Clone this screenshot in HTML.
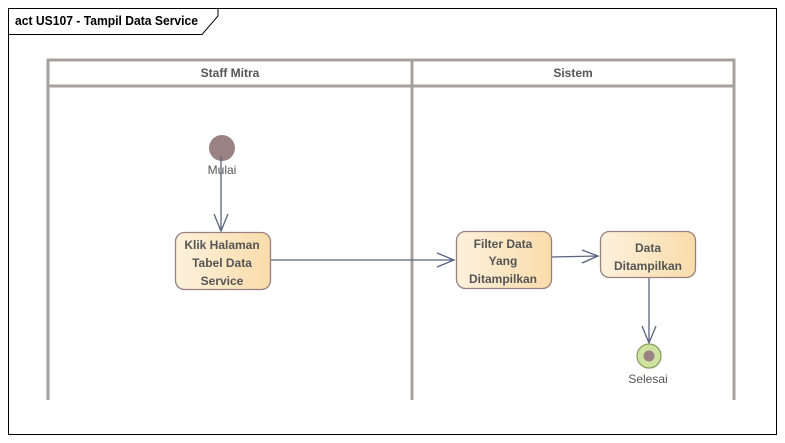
<!DOCTYPE html>
<html><head><style>body{margin:0;background:#fff}svg{display:block}text{font-family:"Liberation Sans",sans-serif}</style></head><body>
<svg width="785" height="443" viewBox="0 0 785 443">
<defs>
<linearGradient id="g" x1="0" x2="1"><stop offset="0" stop-color="#fdf1dc"/><stop offset="1" stop-color="#f9dcaa"/></linearGradient>
</defs>
<rect x="8.5" y="8.5" width="768" height="426" fill="#fff" stroke="#000"/>
<path d="M8.5 34.5H202L218 16V8.5" fill="none" stroke="#000"/>
<text x="15" y="25" font-size="13" font-weight="bold" textLength="183" lengthAdjust="spacingAndGlyphs">act US107 - Tampil Data Service</text>
<g stroke="#a8a0a0" stroke-width="3" fill="none">
<rect x="48" y="60" width="686" height="26"/>
<line x1="48" y1="86" x2="48" y2="400"/>
<line x1="412" y1="60" x2="412" y2="400"/>
<line x1="734" y1="86" x2="734" y2="400"/>
</g>
<g font-size="12" font-weight="bold" fill="#555" text-anchor="middle">
<text x="230" y="77">Staff Mitra</text><text x="573" y="77">Sistem</text>
</g>
<circle cx="222" cy="148" r="13" fill="#9a8282"/>
<text x="222" y="174" font-size="12" fill="#555" text-anchor="middle">Mulai</text>
<g stroke="#5a6480" stroke-width="1.3" fill="none">
<path d="M221 156V231M214 214L221 231L228 214"/>
<path d="M270 260H454M437 253L454 260L437 267"/>
<path d="M551 257L598 256M582 250L598 256L582 263"/>
<path d="M649 277V343M642 326L649 343L656 326"/>
</g>
<g stroke="#9a8080" stroke-width="1.3" fill="url(#g)">
<rect x="175.5" y="232.5" width="95" height="57" rx="9"/>
<rect x="456.5" y="231.5" width="95" height="57" rx="9"/>
<rect x="600.5" y="231.5" width="95" height="46" rx="9"/>
</g>
<g font-size="12" font-weight="bold" fill="#555" text-anchor="middle">
<text x="222" y="249">Klik Halaman</text><text x="222" y="267">Tabel Data</text><text x="222" y="285">Service</text>
<text x="503" y="248">Filter Data</text><text x="503" y="265">Yang</text><text x="503" y="283">Ditampilkan</text>
<text x="648" y="252">Data</text><text x="648" y="270">Ditampilkan</text>
</g>
<circle cx="649" cy="356" r="12" fill="#cfe3a0" stroke="#8aa060" stroke-width="1.3"/>
<circle cx="649" cy="356" r="5.5" fill="#9a8282"/>
<text x="648" y="383" font-size="12" fill="#555" text-anchor="middle">Selesai</text>
</svg>
</body></html>
